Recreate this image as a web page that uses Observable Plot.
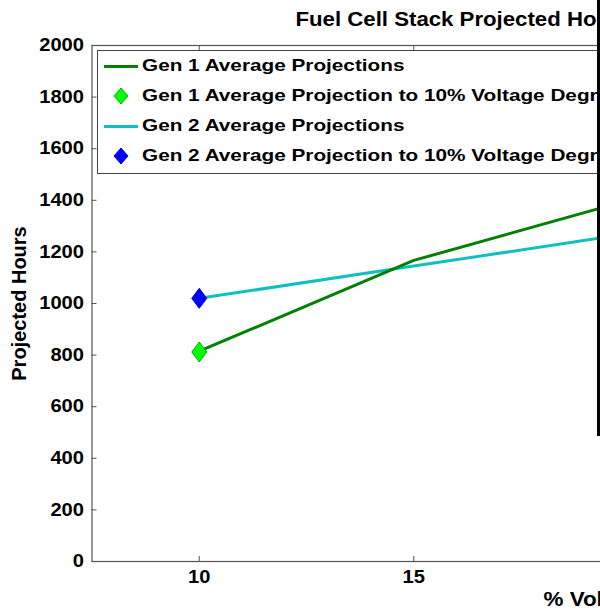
<!DOCTYPE html>
<html>
<head>
<meta charset="utf-8">
<script src="https://cdn.jsdelivr.net/npm/d3@7"></script>
<script src="https://cdn.jsdelivr.net/npm/@observablehq/plot@0.6"></script>
<style>
  html, body { margin: 0; padding: 0; background: #fff; }
  #wrap { position: relative; width: 600px; height: 614px; overflow: hidden; background: #fff; }
  #chart { position: absolute; left: 0; top: 0; width: 850px; }
  #chart svg { max-width: none !important; width: 850px !important; height: 614px !important; }
  #legend { position: absolute; left: 97px; top: 50px; width: 720px; height: 122px; border: 1px solid #444; background: #fff; }
  .row { position: absolute; left: 0; height: 30px; width: 720px; }
  .row svg { position: absolute; left: 0; top: 0; }
  .row span { position: absolute; left: 44px; top: 0; font: bold 17px "Liberation Sans", Arial, sans-serif; line-height: 30px; color: #000; white-space: nowrap; transform: scaleX(1.22); transform-origin: left center; }
  #edge { position: absolute; left: 597px; top: 0; width: 3px; height: 436px; background: #000; }
</style>
</head>
<body>
<div id="wrap">
  <div id="chart"></div>
  <div id="legend"></div>
  <div id="edge"></div>
</div>
<script>
// ---- data ----
const pctVoltage = [10, 15, 20];
const gen1Hours = [815, 1167, 1400];
const gen2Hours = [1020, 1145, 1270];
const markerPct = [10];
const gen1Marker = [812];
const gen2Marker = [1020];
const xTicks = [10, 15, 20, 25];
const yTicks = [0, 200, 400, 600, 800, 1000, 1200, 1400, 1600, 1800, 2000];
const legendLabels = [
  "Gen 1 Average Projections",
  "Gen 1 Average Projection to 10% Voltage Degradation",
  "Gen 2 Average Projections",
  "Gen 2 Average Projection to 10% Voltage Degradation"
];
const titleText = "Fuel Cell Stack Projected Hours";
const xLabel = "% Voltage Degradation";
const yLabel = "Projected Hours";

const gen1 = pctVoltage.map((x, i) => ({x, y: gen1Hours[i]}));
const gen2 = pctVoltage.map((x, i) => ({x, y: gen2Hours[i]}));
const m1 = markerPct.map((x, i) => ({x, y: gen1Marker[i]}));
const m2 = markerPct.map((x, i) => ({x, y: gen2Marker[i]}));

const tallDiamond = {
  draw(ctx, size) {
    const r = Math.sqrt(size / Math.PI);
    ctx.moveTo(0, -r);
    ctx.lineTo(0.75 * r, 0);
    ctx.lineTo(0, r);
    ctx.lineTo(-0.75 * r, 0);
    ctx.closePath();
  }
};

const font = "'Liberation Sans', Arial, Helvetica, sans-serif";

const chart = Plot.plot({
  width: 850,
  height: 614,
  marginLeft: 91.5,
  marginRight: 7.75,
  marginTop: 45,
  marginBottom: 53,
  style: {fontFamily: font, fontSize: "17.5px", fontWeight: "bold", color: "#000", background: "#fff", overflow: "visible"},
  x: {domain: [7.5, 25]},
  y: {domain: [0, 2000]},
  marks: [
    Plot.frame({stroke: "#555", strokeWidth: 1.2}),
    Plot.axisY({ticks: yTicks, tickSize: -5, tickPadding: 13, tickFormat: d => String(d), label: null, stroke: "#555", fill: "#000"}),
    Plot.axisX({ticks: xTicks, tickSize: -5, tickPadding: 14.5, tickFormat: d => String(d), label: null, stroke: "#555", fill: "#000"}),
    Plot.axisX({ticks: xTicks, anchor: "top", tickSize: -5, tickFormat: () => "", label: null, stroke: "#555"}),
    Plot.line(gen2, {x: "x", y: "y", stroke: "#10c0c0", strokeWidth: 3}),
    Plot.line(gen1, {x: "x", y: "y", stroke: "#008000", strokeWidth: 3}),
    Plot.dot(m1, {x: "x", y: "y", symbol: tallDiamond, r: 10, fill: "#00ff00", stroke: "#00b000", strokeWidth: 1}),
    Plot.dot(m2, {x: "x", y: "y", symbol: tallDiamond, r: 10, fill: "#0000ff", stroke: "#0000e0", strokeWidth: 1}),
    Plot.text([titleText], {frameAnchor: "top-left", dx: 203.5, dy: -25.5, textAnchor: "start", lineAnchor: "middle", fontSize: 20, fill: "#000"}),
    Plot.text([xLabel], {frameAnchor: "bottom-left", dx: 451.5, dy: 38, textAnchor: "start", lineAnchor: "middle", fontSize: 20, fill: "#000"}),
    Plot.text([yLabel], {frameAnchor: "left", dx: -72.5, rotate: -90, textAnchor: "middle", lineAnchor: "middle", fontSize: 20, fill: "#000"})
  ]
});
document.getElementById("chart").appendChild(chart);

// horizontal stretch of text (source image is wider than tall)
const stretchFor = new Map([[titleText, 1.11], [xLabel, 1.12]]);
chart.querySelectorAll("text").forEach(t => {
  const s = t.textContent;
  let f = null;
  if (stretchFor.has(s)) f = stretchFor.get(s);
  else if (yTicks.map(String).includes(s) && t.getAttribute("text-anchor") === "end") f = 1.12;
  else if (/^\d+$/.test(s)) f = 1.15;
  if (f) {
    const L = t.getComputedTextLength();
    if (L > 0) {
      t.setAttribute("textLength", (L * f).toFixed(2));
      t.setAttribute("lengthAdjust", "spacingAndGlyphs");
    }
  }
});

// legend
const legendColors = ["#008000", "#00ff00", "#10c0c0", "#0000ff"];
const legendStroke = ["#008000", "#00b000", "#10c0c0", "#0000e0"];
const legendKinds = ["line", "marker", "line", "marker"];
const leg = document.getElementById("legend");
legendLabels.forEach((label, i) => {
  const row = document.createElement("div");
  row.className = "row";
  row.style.top = (i * 30) + "px";
  const ns = "http://www.w3.org/2000/svg";
  const s = document.createElementNS(ns, "svg");
  s.setAttribute("width", 44);
  s.setAttribute("height", 30);
  if (legendKinds[i] === "line") {
    const l = document.createElementNS(ns, "line");
    l.setAttribute("x1", 6); l.setAttribute("x2", 40);
    l.setAttribute("y1", 15.5); l.setAttribute("y2", 15.5);
    l.setAttribute("stroke", legendColors[i]);
    l.setAttribute("stroke-width", 3);
    s.appendChild(l);
  } else {
    const p = document.createElementNS(ns, "path");
    p.setAttribute("d", "M23,7 L30,15 L23,23 L16,15 Z");
    p.setAttribute("fill", legendColors[i]);
    p.setAttribute("stroke", legendStroke[i]);
    p.setAttribute("stroke-width", 1);
    s.appendChild(p);
  }
  row.appendChild(s);
  const sp = document.createElement("span");
  sp.textContent = label;
  row.appendChild(sp);
  leg.appendChild(row);
});
</script>
</body>
</html>
